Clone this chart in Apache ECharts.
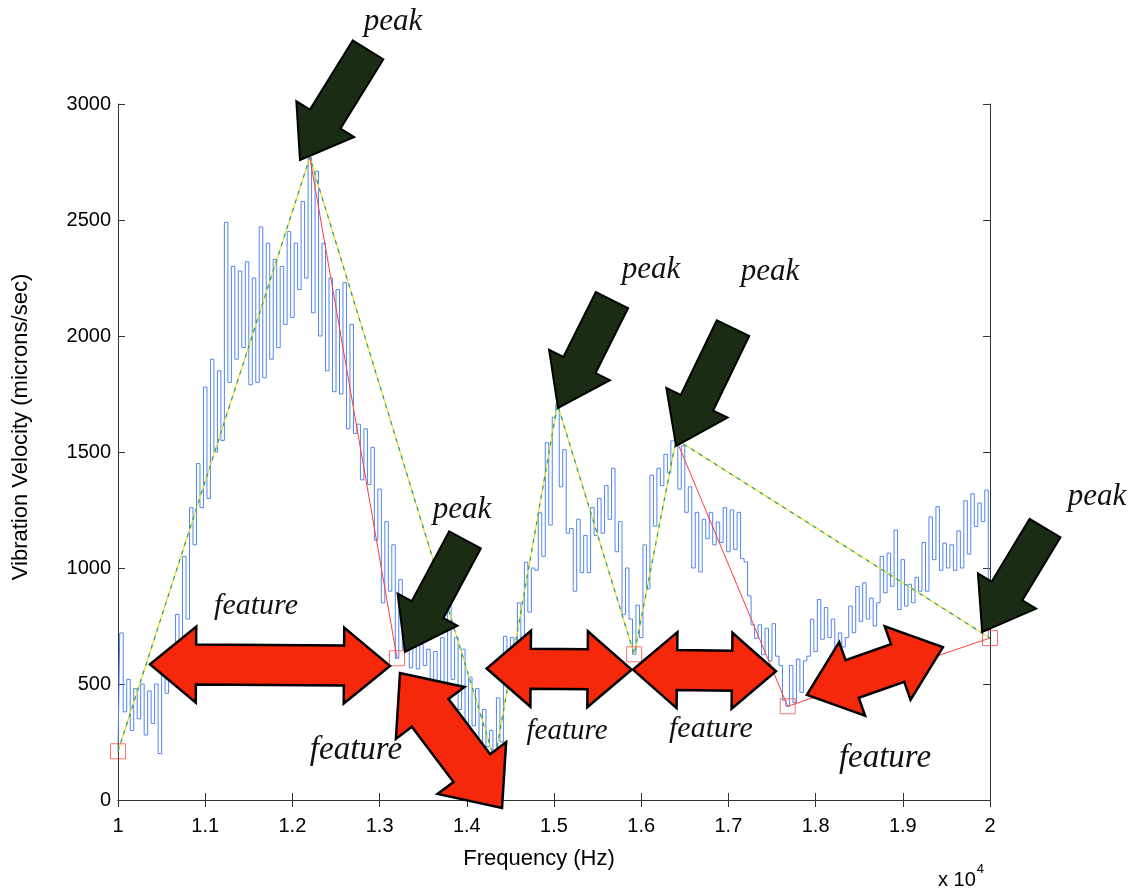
<!DOCTYPE html>
<html>
<head>
<meta charset="utf-8">
<script src="https://cdn.jsdelivr.net/npm/echarts@6/dist/echarts.min.js"></script>
<style>
  html, body { margin: 0; padding: 0; background: #fff; }
  #chart { width: 1142px; height: 894px; }
</style>
</head>
<body>
<div id="chart"></div>
<script>
// Frequency axis is in units of 10^4 Hz; samples are evenly spaced.
const freqStart = 1.0;
const freqStep = 0.004;

// Vibration velocity (microns/sec) per sample
const velocity = [
  210, 720, 380, 520, 300, 480, 350, 500, 280, 470,
  330, 500, 200, 560, 460, 650, 560, 800, 600, 1050,
  780, 1260, 1100, 1450, 1260, 1780, 1300, 1900, 1500, 1850,
  1550, 2490, 1800, 2300, 1900, 2280, 1950, 2320, 1790, 2250,
  1800, 2470, 1820, 2400, 1900, 2330, 1950, 2300, 2050, 2450,
  2080, 2400, 2200, 2580, 2250, 2770, 2100, 2710, 2000, 2400,
  1850, 2250, 1760, 2200, 1750, 2230, 1600, 2050, 1580, 1620,
  1380, 1600, 1360, 1520, 1120, 1340, 850, 1200, 900, 1100,
  611, 950, 650, 670, 570, 660, 565, 670, 580, 650,
  520, 640, 510, 700, 495, 850, 520, 700, 390, 650,
  300, 530, 320, 480, 210, 390, 230, 300, 170, 440,
  250, 706, 565, 700, 650, 850, 680, 1025, 810, 1000,
  990, 1238, 1050, 1540, 1185, 1650, 1705, 1350, 1510, 1150,
  1170, 900, 1210, 980, 1140, 980, 1260, 1140, 1300, 1150,
  1355, 1210, 1430, 1070, 1200, 800, 1000, 780, 628, 840,
  700, 1100, 910, 1400, 1180, 1430, 1355, 1490, 1410, 1548,
  1555, 1340, 1526, 1240, 1350, 1000, 1240, 983, 1210, 1126,
  1240, 1100, 1198, 1110, 1260, 1070, 1250, 1080, 1240, 1040,
  1026, 880, 755, 697, 755, 626, 740, 600, 760, 620,
  580, 430, 404, 580, 420, 607, 464, 600, 620, 779,
  640, 864, 693, 830, 700, 780, 650, 720, 660, 700,
  836, 721, 920, 770, 936, 780, 870, 750, 850, 1050,
  893, 1064, 921, 1164, 821, 1036, 836, 930, 850, 960,
  900, 1110, 900, 1220, 1036, 1264, 990, 1107, 1000, 1100,
  990, 1160, 1000, 1290, 1060, 1320, 1179, 1280, 1200, 1336, 698
];

// Peak/valley envelope (yellow-green) through alternating extrema
const hullFreq = [1.0, 1.22, 1.432, 1.504, 1.592, 1.64, 2.0];
const hullVel  = [210, 2770, 170, 1705, 628, 1555, 698];

// Red feature segments
const dropFreqA = [1.22, 1.32];
const dropVelA  = [2770, 611];
const dropFreqB = [1.64, 1.768, 2.0];
const dropVelB  = [1555, 404, 698];

// Feature points (red squares)
const featFreq = [1.0, 1.32, 1.592, 1.768, 2.0];
const featVel  = [210, 611, 628, 404, 698];

// Tick labels
const yTicks = [0, 500, 1000, 1500, 2000, 2500, 3000];
const xTickLabels = ['1', '1.1', '1.2', '1.3', '1.4', '1.5', '1.6', '1.7', '1.8', '1.9', '2'];

// Annotation anchors in data space: "peak" arrows (tail -> tip)
const peakTails = [[1.2867, 3233], [1.5665, 2155], [1.7053, 2034], [1.3979, 1121], [2.0631, 1172]];
const peakTips  = [[1.2087, 2759], [1.5046, 1690], [1.640, 1526], [1.329, 638], [1.991, 724]];
const peakLabels = [[1.3154, 3353], [1.6112, 2284], [1.7477, 2276], [1.3945, 1250], [2.1227, 1306]];

// "feature" double arrows (end to end) and their captions
const featureEndsA = [[1.0367, 585], [1.3234, 547], [1.4228, 567], [1.5906, 562], [1.790, 453]];
const featureEndsB = [[1.3119, 578], [1.4404, -34], [1.589, 562], [1.7546, 555], [1.946, 659]];
const featureLabels = [[1.1583, 836], [1.2729, 216], [1.5149, 297], [1.680, 306], [1.8796, 181]];
const featureLabelSizes = [30, 33, 29, 30, 33];
const featureArrowSizes = [[40, 76, 46], [46, 86, 50], [40, 76, 44], [40, 76, 44], [40, 78, 48]];

const pair = (xs, ys) => xs.map((x, i) => [x, ys[i]]);
const signal = velocity.map((v, i) => [+(freqStart + i * freqStep).toFixed(4), v]);

const axisFont = { fontFamily: 'Liberation Sans, Arial, sans-serif', fontSize: 20, color: '#000' };
const frameLine = { show: true, lineStyle: { color: '#333', width: 1 } };

const chart = echarts.init(document.getElementById('chart'), null, { renderer: 'canvas' });

const option = {
  backgroundColor: '#fff',
  animation: false,
  grid: { left: 118, right: 152, top: 104, bottom: 94 },
  xAxis: [
    {
      type: 'value', min: 1, max: 2, interval: 0.1, position: 'bottom',
      axisLine: frameLine,
      axisTick: { show: true, inside: true, length: 7, lineStyle: { color: '#333' } },
      splitLine: { show: false },
      axisLabel: Object.assign({}, axisFont, {
        margin: 16,
        formatter: v => xTickLabels[Math.round((v - 1) * 10)]
      }),
      name: 'Frequency (Hz)', nameLocation: 'middle', nameGap: 48,
      nameTextStyle: { fontFamily: 'Liberation Sans, Arial, sans-serif', fontSize: 22, color: '#000', padding: [0, 30, 0, 0] }
    },
    {
      type: 'value', min: 1, max: 2, interval: 0.1, position: 'top',
      axisLine: frameLine,
      axisTick: { show: true, inside: true, length: 7, lineStyle: { color: '#333' } },
      splitLine: { show: false }, axisLabel: { show: false }
    }
  ],
  yAxis: [
    {
      type: 'value', min: 0, max: 3000, interval: 500, position: 'left',
      axisLine: frameLine,
      axisTick: { show: true, inside: true, length: 7, lineStyle: { color: '#333' } },
      splitLine: { show: false },
      axisLabel: Object.assign({}, axisFont, {
        margin: 7,
        formatter: v => String(yTicks[Math.round(v / 500)])
      }),
      name: 'Vibration Velocity (microns/sec)', nameLocation: 'middle', nameGap: 86,
      nameTextStyle: { fontFamily: 'Liberation Sans, Arial, sans-serif', fontSize: 22, color: '#000', padding: [0, 0, 0, 50] }
    },
    {
      type: 'value', min: 0, max: 3000, interval: 500, position: 'right',
      axisLine: frameLine,
      axisTick: { show: true, inside: true, length: 7, lineStyle: { color: '#333' } },
      splitLine: { show: false }, axisLabel: { show: false }
    }
  ],
  series: [
    {
      name: 'velocity', type: 'line', data: signal, showSymbol: false, step: 'middle',
      lineStyle: { color: '#5285f0', width: 1 }, z: 2
    },
    {
      name: 'envelope', type: 'line', data: pair(hullFreq, hullVel), showSymbol: false,
      lineStyle: { color: '#e4e832', width: 1.2 }, z: 3
    },
    {
      name: 'envelope-dash', type: 'line', data: pair(hullFreq, hullVel), showSymbol: false,
      lineStyle: { color: '#2f9a70', width: 1.2, type: [4, 5] }, z: 4
    },
    {
      name: 'drop A', type: 'line', data: pair(dropFreqA, dropVelA), showSymbol: false,
      lineStyle: { color: '#ff3b3b', width: 1 }, z: 5
    },
    {
      name: 'drop B', type: 'line', data: pair(dropFreqB, dropVelB), showSymbol: false,
      lineStyle: { color: '#ff3b3b', width: 1 }, z: 5
    },
    {
      name: 'features', type: 'scatter', data: pair(featFreq, featVel),
      symbol: 'rect', symbolSize: 15, clip: false,
      itemStyle: { color: 'rgba(0,0,0,0)', borderColor: '#ff4a4a', borderWidth: 1 }, z: 6
    }
  ]
};

chart.setOption(option);

const toPx = p => chart.convertToPixel({ xAxisIndex: 0, yAxisIndex: 0 }, p);

function singleArrow(tail, tip, shaftW, headW, headL) {
  const dx = tip[0] - tail[0], dy = tip[1] - tail[1];
  const len = Math.hypot(dx, dy);
  const ux = dx / len, uy = dy / len, nx = -uy, ny = ux;
  const bx = tip[0] - ux * headL, by = tip[1] - uy * headL;
  const w = shaftW / 2, h = headW / 2;
  return [
    [tail[0] + nx * w, tail[1] + ny * w],
    [bx + nx * w, by + ny * w],
    [bx + nx * h, by + ny * h],
    [tip[0], tip[1]],
    [bx - nx * h, by - ny * h],
    [bx - nx * w, by - ny * w],
    [tail[0] - nx * w, tail[1] - ny * w]
  ];
}

function doubleArrow(a, b, shaftW, headW, headL) {
  const dx = b[0] - a[0], dy = b[1] - a[1];
  const len = Math.hypot(dx, dy);
  const ux = dx / len, uy = dy / len, nx = -uy, ny = ux;
  const w = shaftW / 2, h = headW / 2;
  const ax = a[0] + ux * headL, ay = a[1] + uy * headL;
  const bx = b[0] - ux * headL, by = b[1] - uy * headL;
  return [
    [a[0], a[1]],
    [ax + nx * h, ay + ny * h],
    [ax + nx * w, ay + ny * w],
    [bx + nx * w, by + ny * w],
    [bx + nx * h, by + ny * h],
    [b[0], b[1]],
    [bx - nx * h, by - ny * h],
    [bx - nx * w, by - ny * w],
    [ax - nx * w, ay - ny * w],
    [ax - nx * h, ay - ny * h]
  ];
}

const graphics = [];

peakTips.forEach((tip, i) => {
  graphics.push({
    type: 'polygon', z: 100,
    shape: { points: singleArrow(toPx(peakTails[i]), toPx(tip), 36, 68, 48) },
    style: { fill: '#1a2c14', stroke: '#000', lineWidth: 2, lineJoin: 'miter' }
  });
  const lp = toPx(peakLabels[i]);
  graphics.push({
    type: 'text', z: 101, x: lp[0], y: lp[1],
    style: {
      text: 'peak', fill: '#111', align: 'center', verticalAlign: 'middle',
      font: 'italic 31px "Liberation Serif", "DejaVu Serif", serif'
    }
  });
});

featureEndsA.forEach((a, i) => {
  const s = featureArrowSizes[i];
  graphics.push({
    type: 'polygon', z: 100,
    shape: { points: doubleArrow(toPx(a), toPx(featureEndsB[i]), s[0], s[1], s[2]) },
    style: { fill: '#f5280c', stroke: '#000', lineWidth: 2.5, lineJoin: 'miter' }
  });
  const lp = toPx(featureLabels[i]);
  graphics.push({
    type: 'text', z: 101, x: lp[0], y: lp[1],
    style: {
      text: 'feature', fill: '#111', align: 'center', verticalAlign: 'middle',
      font: 'italic ' + featureLabelSizes[i] + 'px "Liberation Serif", "DejaVu Serif", serif'
    }
  });
});

// Axis exponent note under the right end of the x axis
graphics.push({
  type: 'text', z: 101, right: 158, bottom: 4,
  style: {
    text: '{b|x 10}{s|4}',
    rich: {
      b: { fontFamily: 'Liberation Sans, Arial, sans-serif', fontSize: 20, fill: '#000', verticalAlign: 'bottom' },
      s: { fontFamily: 'Liberation Sans, Arial, sans-serif', fontSize: 13, fill: '#000', padding: [0, 0, 14, 1], verticalAlign: 'bottom' }
    }
  }
});

chart.setOption({ graphic: graphics });
</script>
</body>
</html>
